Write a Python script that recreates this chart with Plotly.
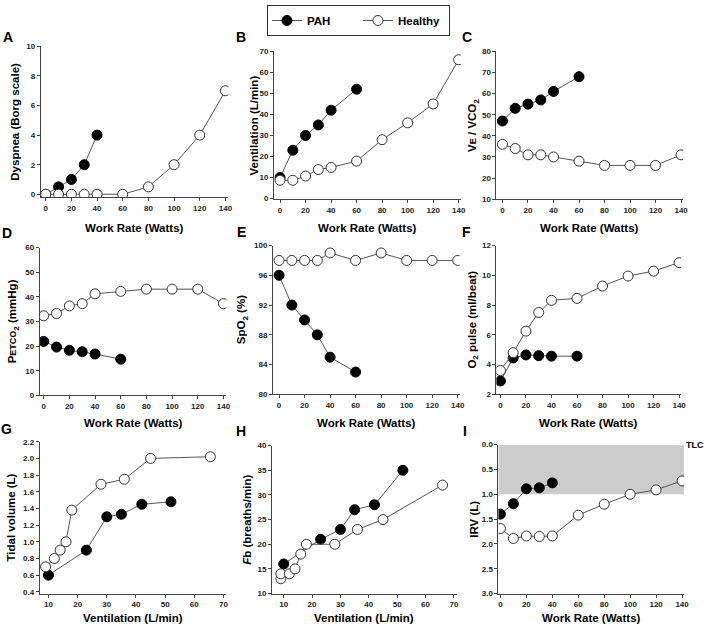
import plotly.graph_objects as go

# ---------------- data ----------------
wr_pah = [0, 10, 20, 30, 40, 60]
wr_healthy = [0, 10, 20, 30, 40, 60, 80, 100, 120, 140]

# A: Dyspnea (Borg)
dysp_pah_x = [0, 10, 20, 30, 40]
dysp_pah = [0, 0.5, 1, 2, 4]
dysp_healthy = [0, 0, 0, 0, 0, 0, 0.5, 2, 4, 7]

# B: Ventilation
vent_pah = [10, 23, 30, 35, 42, 52]
vent_healthy = [8.7, 8.7, 10.7, 13.8, 14.8, 17.8, 28, 36, 45, 66]

# C: VE/VCO2
vevco2_pah = [47, 53, 55, 57, 61, 68]
vevco2_healthy = [36, 34, 31, 31, 30, 28, 26, 26, 26, 31]

# D: PETCO2
petco2_pah = [21.9, 19.6, 18.3, 17.7, 16.8, 14.7]
petco2_healthy = [32.3, 33.2, 36.3, 37.2, 41.2, 42.2, 43.1, 43.1, 43.1, 37.2]

# E: SpO2
spo2_pah = [96, 92, 90, 88, 85, 83]
spo2_healthy = [98, 98, 98, 98, 99, 98, 99, 98, 98, 98]

# F: O2 pulse
o2p_pah = [2.9, 4.45, 4.65, 4.6, 4.57, 4.57]
o2p_healthy = [3.6, 4.8, 6.25, 7.5, 8.32, 8.45, 9.28, 9.95, 10.28, 10.85]

# G: Tidal volume vs ventilation
vt_pah_x = [10, 23, 30, 35, 42, 52]
vt_pah = [0.6, 0.9, 1.3, 1.33, 1.45, 1.48]
vt_healthy_x = [9, 12, 14, 16, 18, 28, 36, 45, 65.5]
vt_healthy = [0.7, 0.8, 0.9, 1.0, 1.38, 1.69, 1.75, 2.0, 2.02]

# H: Fb vs ventilation
fb_pah_x = [10, 23, 30, 35, 42, 52]
fb_pah = [16, 21, 23, 27, 28, 35]
fb_healthy_x = [9, 9, 12, 14, 16, 18, 28, 36, 45, 66]
fb_healthy = [13, 14, 14, 15, 18, 20, 20, 23, 25, 32]

# I: IRV
irv_pah_x = [0, 10, 20, 30, 40]
irv_pah = [1.4, 1.19, 0.89, 0.87, 0.77]
irv_healthy = [1.69, 1.89, 1.84, 1.85, 1.84, 1.42, 1.2, 1.0, 0.91, 0.73]

W, H = 708, 636
FONT = "Liberation Sans, Arial, sans-serif"
LINE_C = "#555555"
AX_C = "#444444"

panels = [
    dict(L="A", xp=(41, 230), yp=(43, 196), xr=[-3.9, 142.3], yr=[-0.2, 10],
         yt=[0, 2, 4, 6, 8, 10], ytt=None, xt=list(range(0, 141, 20)),
         title="Dyspnea (Borg scale)", tx=15, xtitle="Work Rate (Watts)",
         pah=(dysp_pah_x, dysp_pah), hea=(wr_healthy, dysp_healthy), lx=8, ly=33),
    dict(L="B", xp=(276, 464), yp=(48, 198), xr=[-4.7, 141.6], yr=[-0.3, 70],
         yt=list(range(0, 71, 10)), ytt=None, xt=list(range(0, 141, 20)),
         title="Ventilation (L/min)", tx=256, xtitle="Work Rate (Watts)",
         pah=(wr_pah, vent_pah), hea=(wr_healthy, vent_healthy), lx=243, ly=33),
    dict(L="C", xp=(500, 688), yp=(48, 198), xr=[-4.7, 141.6], yr=[10, 80],
         yt=list(range(10, 81, 10)), ytt=None, xt=list(range(0, 141, 20)),
         title="V<span style='font-size:9px'>E</span> / VCO<sub>2</sub>", tx=477,
         xtitle="Work Rate (Watts)",
         pah=(wr_pah, vevco2_pah), hea=(wr_healthy, vevco2_healthy), lx=470, ly=33),
    dict(L="D", xp=(40, 228), yp=(247, 397), xr=[-3.1, 142.3], yr=[0, 60],
         yt=list(range(0, 61, 10)), ytt=None, xt=list(range(0, 141, 20)),
         title="P<span style='font-size:9px'>ETCO</span><sub>2</sub> (mmHg)", tx=14,
         xtitle="Work Rate (Watts)",
         pah=(wr_pah, petco2_pah), hea=(wr_healthy, petco2_healthy), lx=7, ly=232),
    dict(L="E", xp=(275, 463), yp=(245, 396), xr=[-4.7, 141.6], yr=[80, 100],
         yt=list(range(80, 101, 4)), ytt=None, xt=list(range(0, 141, 20)),
         title="SpO<sub>2</sub> (%)", tx=244, xtitle="Work Rate (Watts)",
         pah=(wr_pah, spo2_pah), hea=(wr_healthy, spo2_healthy), lx=243, ly=231),
    dict(L="F", xp=(500, 686), yp=(245, 396), xr=[-3.1, 141.6], yr=[2, 12],
         yt=list(range(2, 13, 2)), ytt=None, xt=list(range(0, 141, 20)),
         title="O<sub>2</sub> pulse (ml/beat)", tx=476, xtitle="Work Rate (Watts)",
         pah=(wr_pah, o2p_pah), hea=(wr_healthy, o2p_healthy), lx=470, ly=231),
    dict(L="G", xp=(40, 228), yp=(444, 598), xr=[7, 71], yr=[0.38, 2.2],
         yt=[0.4, 0.6, 0.8, 1.0, 1.2, 1.4, 1.6, 1.8, 2.0, 2.2], ytt=".1f",
         xt=list(range(10, 71, 10)),
         title="Tidal volume (L)", tx=11, xtitle="Ventilation (L/min)",
         pah=(vt_pah_x, vt_pah), hea=(vt_healthy_x, vt_healthy), lx=7, ly=431),
    dict(L="H", xp=(274, 460), yp=(448, 598), xr=[5.9, 71], yr=[10, 40],
         yt=list(range(10, 41, 5)), ytt=None, xt=list(range(10, 71, 10)),
         title="<i>F</i>b (breaths/min)", tx=248, xtitle="Ventilation (L/min)",
         pah=(fb_pah_x, fb_pah), hea=(fb_healthy_x, fb_healthy), lx=243, ly=433),
    dict(L="I", xp=(502, 689), yp=(447, 598), xr=[-1.5, 141.6], yr=[3, 0],
         yt=[0, 0.5, 1.0, 1.5, 2.0, 2.5, 3.0], ytt=".1f", xt=list(range(0, 141, 20)),
         title="IRV (L)", tx=477, xtitle="Work Rate (Watts)",
         pah=(irv_pah_x, irv_pah), hea=(wr_healthy, irv_healthy), lx=468, ly=433),
]

fig = go.Figure()
annotations = []
shapes = []

for i, p in enumerate(panels):
    n = "" if i == 0 else str(i + 1)
    xa, ya = "x" + n, "y" + n
    xdom = [p["xp"][0] / W, p["xp"][1] / W]
    ydom = [1 - p["yp"][1] / H, 1 - p["yp"][0] / H]
    axis_common = dict(showline=True, linecolor=AX_C, linewidth=1, ticks="outside",
                       ticklen=3, tickcolor=AX_C, showgrid=False, zeroline=False,
                       tickfont=dict(family=FONT, size=8, color="#222", weight="bold"))
    fig.layout["xaxis" + n] = dict(domain=xdom, range=p["xr"], anchor=ya,
                                   tickvals=p["xt"], **axis_common)
    yax = dict(domain=ydom, range=p["yr"], anchor=xa, tickvals=p["yt"], **axis_common)
    if p["ytt"]:
        yax["tickformat"] = p["ytt"]
    fig.layout["yaxis" + n] = yax

    fig.add_trace(go.Scatter(x=p["pah"][0], y=p["pah"][1], mode="lines+markers",
                             name="PAH", legendgroup="PAH", showlegend=(i == 0),
                             line=dict(color=LINE_C, width=1),
                             marker=dict(size=10, color="black",
                                         line=dict(color="black", width=1)),
                             xaxis=xa, yaxis=ya))
    fig.add_trace(go.Scatter(x=p["hea"][0], y=p["hea"][1], mode="lines+markers",
                             name="Healthy", legendgroup="Healthy", showlegend=(i == 0),
                             line=dict(color=LINE_C, width=1),
                             marker=dict(size=10, color="white",
                                         line=dict(color="#333333", width=1)),
                             xaxis=xa, yaxis=ya))

    # panel letter
    annotations.append(dict(text="<b>%s</b>" % p["L"], x=p["lx"] / W, y=1 - p["ly"] / H,
                            xref="paper", yref="paper", showarrow=False,
                            xanchor="center", yanchor="middle",
                            font=dict(family=FONT, size=14, color="black")))
    # y title
    ymid = (p["yp"][0] + p["yp"][1]) / 2
    annotations.append(dict(text="<b>%s</b>" % p["title"], x=p["tx"] / W, y=1 - ymid / H,
                            xref="paper", yref="paper", showarrow=False, textangle=-90,
                            xanchor="center", yanchor="middle",
                            font=dict(family=FONT, size=11.5, color="black")))
    # x title
    xmid = (p["xp"][0] + p["xp"][1]) / 2
    ty = {0: 227, 1: 425, 2: 623}[i // 3]
    annotations.append(dict(text="<b>%s</b>" % p["xtitle"], x=xmid / W, y=1 - ty / H,
                            xref="paper", yref="paper", showarrow=False,
                            xanchor="center", yanchor="middle",
                            font=dict(family=FONT, size=11.5, color="black")))

# shaded region in panel I (IRV between TLC and 1.0 L)
shapes.append(dict(type="rect", xref="x9", yref="y9", x0=-1.5, x1=141.6, y0=0, y1=1.0,
                   fillcolor="#cccccc", line=dict(width=0), layer="below"))
annotations.append(dict(text="<b>TLC</b>", x=689 / W, y=1 - 447 / H, xref="paper",
                        yref="paper", showarrow=False, xanchor="left", yanchor="middle",
                        font=dict(family=FONT, size=9, color="black")))

fig.update_layout(
    width=W, height=H, margin=dict(l=0, r=0, t=0, b=0),
    paper_bgcolor="white", plot_bgcolor="white",
    annotations=annotations, shapes=shapes,
    legend=dict(orientation="h", x=361 / W, xanchor="center", y=1 - 1 / H, yanchor="top",
                bordercolor="#333", borderwidth=1, bgcolor="white",
                font=dict(family=FONT, size=11.5, color="black", weight="bold"),
                itemwidth=30, tracegroupgap=0, entrywidth=46),
    showlegend=True,
)

fig.write_html("out.html", config={"displayModeBar": False},
               post_script="document.body.style.margin='0';document.body.style.padding='0';")
